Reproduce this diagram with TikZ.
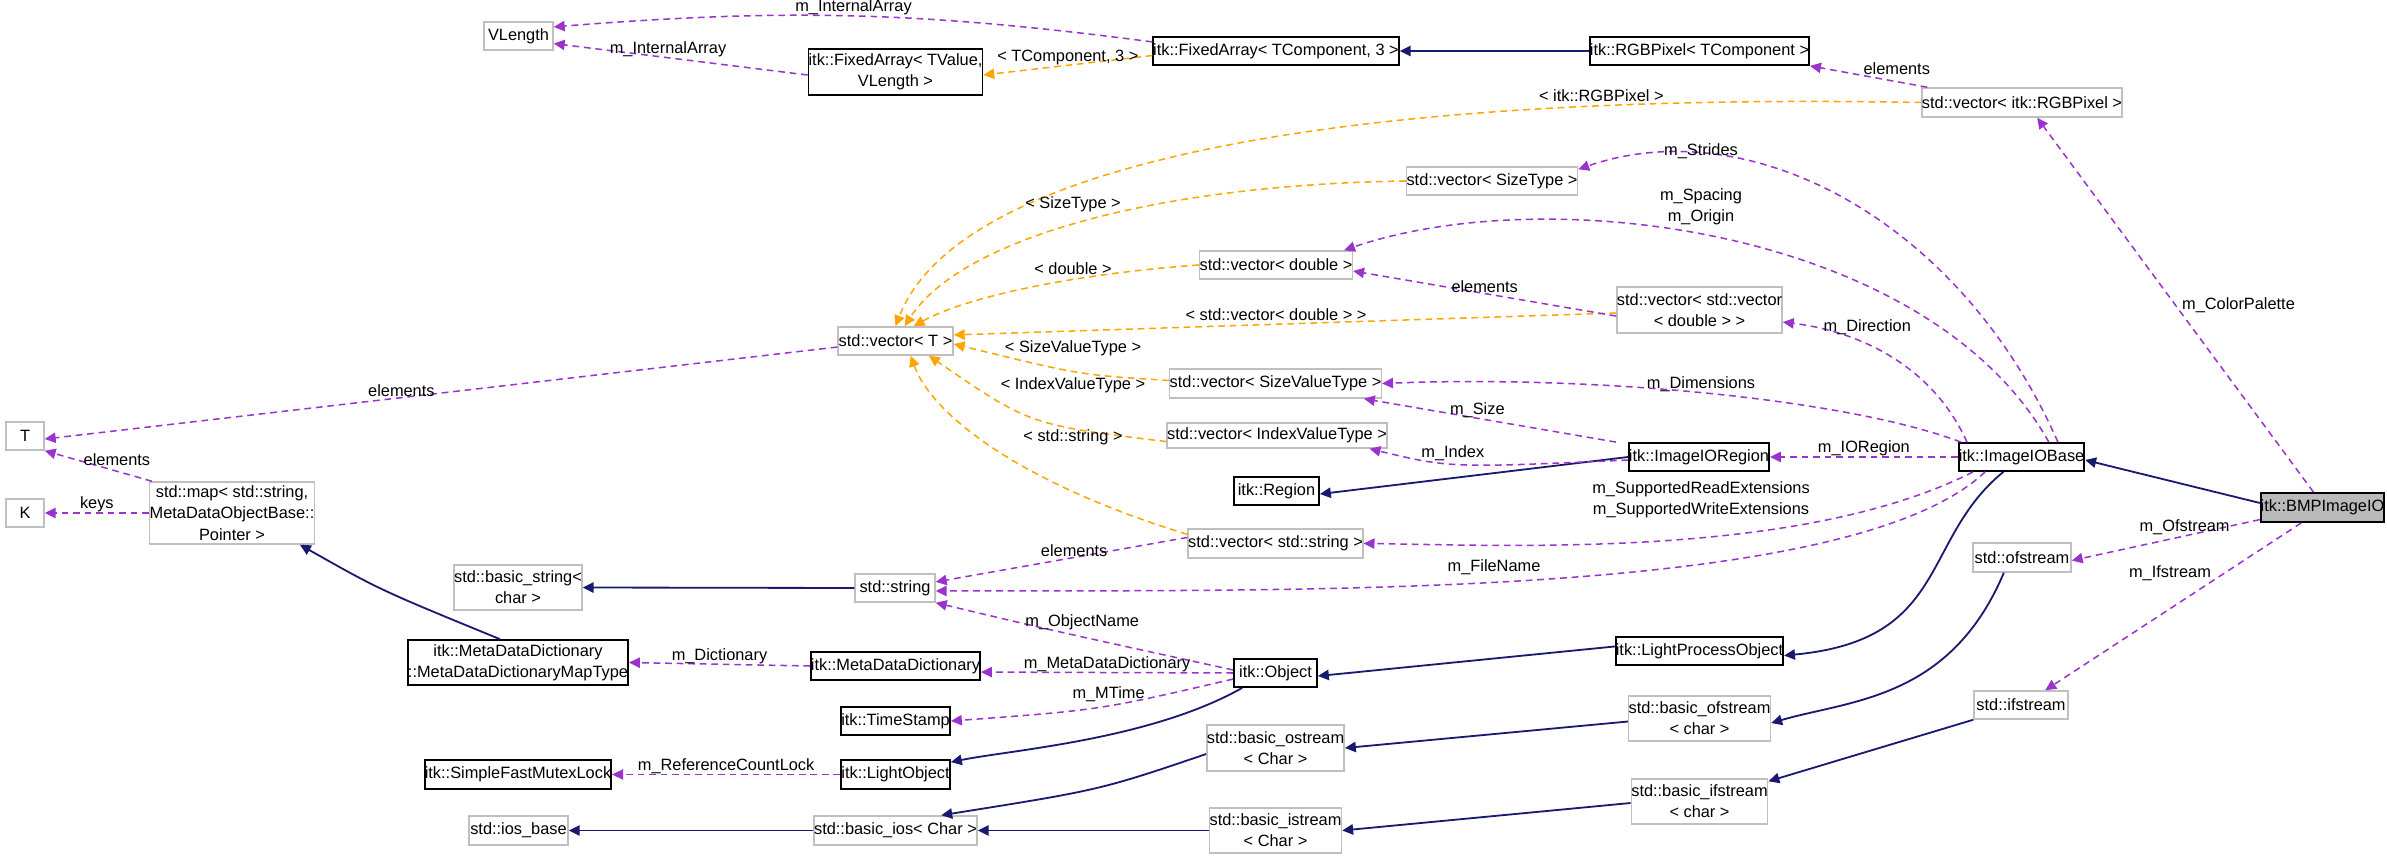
\documentclass[tikz,border=0pt]{standalone}
\usepackage{fontspec}
\setmainfont{Liberation Sans}
\usetikzlibrary{arrows.meta}
\definecolor{use}{HTML}{9A32CD}
\definecolor{tpl}{HTML}{FFA500}
\definecolor{inh}{HTML}{191970}
\definecolor{gbox}{HTML}{BFBFBF}
\newcommand\bx[7]{%
 \pgfmathsetmacro\cxx{(#2+#4)/2}\pgfmathsetmacro\cyy{(#3+#5)/2}%
 \pgfmathsetmacro\ww{(#4-#2)*0.33}\pgfmathsetmacro\hh{(#5-#3)*0.33}%
 \node[#6,minimum width=\ww pt,minimum height=\hh pt] (#1) at (\cxx,\cyy) {#7};}
\begin{document}
\begin{tikzpicture}[x=0.33pt,y=-0.33pt,
 every node/.style={font=\fontsize{5.4}{7}\selectfont,inner sep=0pt,align=center},
 gb/.style={draw=gbox,line width=0.5pt,fill=white},
 bb/.style={draw=black,line width=0.6pt,fill=white},
 me/.style={draw=black,line width=0.6pt,fill=black!27},
 lb/.style={fill=none},
 tip/.style={-{Triangle[length=3.6pt,width=3.4pt]}},
 use/.style={tip,draw=use,dashed,dash pattern=on 2.2pt off 1.6pt,line width=0.5pt},
 tpl/.style={tip,draw=tpl,dashed,dash pattern=on 2.2pt off 1.6pt,line width=0.5pt},
 inh/.style={tip,draw=inh,line width=0.6pt}]
\useasboundingbox (0,0) rectangle (2387,859);
% nodes
\bx{VL}{484}{22}{553}{50}{gb}{VLength}
\bx{FATV}{813}{49}{978}{95}{bb}{itk::FixedArray< TValue,\\VLength >}
\bx{FA3}{1165}{37}{1387}{65}{bb}{itk::FixedArray< TComponent, 3 >}
\bx{RGB}{1599}{37}{1800}{65}{bb}{itk::RGBPixel< TComponent >}
\bx{VRGB}{1928}{88}{2116}{117}{gb}{std::vector< itk::RGBPixel >}
\bx{VST}{1411}{167}{1573}{195}{gb}{std::vector< SizeType >}
\bx{VD}{1203}{251}{1349}{279}{gb}{std::vector< double >}
\bx{VVD}{1620}{287}{1779}{333}{gb}{std::vector< std::vector\\< double > >}
\bx{VT}{838}{327}{953}{355}{gb}{std::vector< T >}
\bx{VSVT}{1177}{369}{1374}{398}{gb}{std::vector< SizeValueType >}
\bx{VIVT}{1177}{423}{1377}{448}{gb}{std::vector< IndexValueType >}
\bx{IOR}{1632}{443}{1766}{471}{bb}{itk::ImageIORegion}
\bx{IOB}{1959}{443}{2084}{471}{bb}{itk::ImageIOBase}
\bx{BMP}{2261}{493}{2384}{522}{me}{itk::BMPImageIO}
\bx{REG}{1234}{477}{1319}{505}{bb}{itk::Region}
\bx{VS}{1192}{529}{1359}{558}{gb}{std::vector< std::string >}
\bx{OFS}{1973}{543}{2071}{572}{gb}{std::ofstream}
\bx{LPO}{1620}{637}{1779}{665}{bb}{itk::LightProcessObject}
\bx{OBJ}{1234}{659}{1317}{687}{bb}{itk::Object}
\bx{BOFS}{1631}{696}{1768}{741}{gb}{std::basic\_ofstream\\< char >}
\bx{IFS}{1974}{691}{2068}{719}{gb}{std::ifstream}
\bx{BOS}{1209}{725}{1342}{771}{gb}{std::basic\_ostream\\< Char >}
\bx{BIFS}{1633}{779}{1766}{824}{gb}{std::basic\_ifstream\\< char >}
\bx{BIS}{1211}{808}{1340}{853}{gb}{std::basic\_istream\\< Char >}
\bx{T}{6}{422}{44}{450}{gb}{T}
\bx{K}{6}{499}{44}{527}{gb}{K}
\bx{MAP}{153}{482}{311}{544}{gb}{std::map< std::string,\\MetaDataObjectBase::\\Pointer >}
\bx{BSTR}{455}{565}{581}{610}{gb}{std::basic\_string<\\char >}
\bx{STR}{855}{574}{935}{602}{gb}{std::string}
\bx{MDMT}{418}{640}{618}{685}{bb}{itk::MetaDataDictionary\\::MetaDataDictionaryMapType}
\bx{MDD}{816}{652}{975}{680}{bb}{itk::MetaDataDictionary}
\bx{TS}{841}{707}{950}{735}{bb}{itk::TimeStamp}
\bx{MUT}{431}{760}{605}{789}{bb}{itk::SimpleFastMutexLock}
\bx{LO}{841}{760}{950}{789}{bb}{itk::LightObject}
\bx{IOS}{469}{816}{568}{845}{gb}{std::ios\_base}
\bx{BIOS}{819}{816}{972}{845}{gb}{std::basic\_ios< Char >}
% inheritance
\draw[inh] (RGB.west) -- (FA3.east);
\draw[inh] ([yshift=1.5pt]BMP.west) -- ([yshift=-1pt]IOB.east);
\draw[inh] ([xshift=-6pt]IOB.south) .. controls (1920,540) and (1950,640) .. ([yshift=-1.5pt]LPO.east);
\draw[inh] ([yshift=1.5pt]LPO.west) -- ([yshift=-1pt]OBJ.east);
\draw[inh] ([xshift=-11pt]OBJ.south) .. controls (1150,740) and (1010,750) .. ([yshift=-1pt]LO.north east);
\draw[inh] (IOR.west) -- ([yshift=-1pt]REG.east);
\draw[inh] (STR.west) -- (BSTR.east);
\draw[inh] ([xshift=-6pt]MDMT.north) .. controls (380,590) .. ([xshift=-5pt]MAP.south east);
\draw[inh] ([xshift=-6pt]OFS.south) .. controls (1950,700) and (1850,700) .. ([yshift=-1.5pt]BOFS.east);
\draw[inh] ([yshift=-1pt]BOFS.west) -- ([yshift=0pt]BOS.east);
\draw[inh] ([yshift=-2pt]BOS.west) .. controls (1100,790) .. ([xshift=-12pt]BIOS.north east);
\draw[inh] (BIS.west |- BIOS.east) -- (BIOS.east);
\draw[inh] (IFS.south west) -- ([yshift=-1pt]BIFS.north east);
\draw[inh] ([yshift=-0.5pt]BIFS.west) -- (BIS.east);
\draw[inh] (BIOS.west) -- (IOS.east);
% templates
\draw[tpl] ([yshift=-1.5pt]FA3.west) -- node[lb,above,pos=0.5] {< TComponent, 3 >} ([yshift=-1pt]FATV.east);
\draw[tpl] (VRGB.west) .. controls (1350,92) and (960,160) .. ([xshift=0pt]VT.north) node[lb,pos=0.2,above=1pt] {< itk::RGBPixel >};
\draw[tpl] (VST.west) .. controls (1150,185) and (960,240) .. ([xshift=3pt]VT.north);
\draw[tpl] (VD.west) .. controls (1060,275) and (960,300) .. ([xshift=6pt]VT.north);
\draw[tpl] ([yshift=-1pt]VVD.west) -- ([yshift=2pt]VT.east);
\draw[tpl] ([yshift=1pt]VSVT.west) .. controls (1080,375) .. ([yshift=-1pt]VT.east);
\draw[tpl] ([yshift=-2pt]VIVT.west) .. controls (1030,425) .. ([xshift=11pt]VT.south);
\draw[tpl] ([yshift=3pt]VS.west) .. controls (1010,480) and (930,410) .. ([xshift=5pt]VT.south);
\node[lb] (l1) at (1073,204) {< SizeType >};
\node[lb] (l2) at (1073,269) {< double >};
\node[lb] (l3) at (1276,315) {< std::vector< double > >};
\node[lb] (l4) at (1073,348) {< SizeValueType >};
\node[lb] (l5) at (1073,385) {< IndexValueType >};
\node[lb] (l6) at (1073,437) {< std::string >};
% usage
\draw[use] ([yshift=3pt]FA3.west) to[bend right=6] node[lb,above,pos=0.5] {m\_InternalArray} ([yshift=3pt]VL.east);
\draw[use] ([yshift=-1pt]FATV.west) -- node[lb,above,pos=0.55] {m\_InternalArray} ([yshift=-2.5pt]VL.east);
\draw[use] ([xshift=2pt]VRGB.north west) -- node[lb,above right,pos=0.55] {elements} (RGB.south east);
\draw[use] ([xshift=-3pt]BMP.north) -- node[lb,right=2pt,pos=0.5] {m\_ColorPalette} ([xshift=5pt]VRGB.south);
\draw[use] ([xshift=-9pt]IOB.north east) .. controls (1960,220) and (1750,110) .. ([yshift=-1pt]VST.north east);
\node[lb] (l7) at (1701,151) {m\_Strides};
\draw[use] ([xshift=-12pt]IOB.north east) .. controls (1930,230) and (1550,180) .. ([xshift=-3pt]VD.north east);
\node[lb] (l8) at (1701,207) {m\_Spacing\\m\_Origin};
\draw[use] ([yshift=-2pt]VVD.west) -- node[lb,above,pos=0.5] {elements} ([yshift=-2pt]VD.east);
\draw[use] ([xshift=-18pt]IOB.north) .. controls (1930,360) and (1850,330) .. ([yshift=-4pt]VVD.east) node[lb,pos=0.85,right=3pt] {m\_Direction};
\draw[use] ([xshift=-20pt]IOB.north) .. controls (1850,400) and (1600,375) .. (VSVT.east);
\node[lb] (l9) at (1701,384) {m\_Dimensions};
\draw[use] ([xshift=-4pt]IOR.north west) -- node[lb,above,pos=0.55] {m\_Size} ([xshift=-6pt]VSVT.south east);
\draw[use] ([yshift=-1pt]IOR.west) .. controls (1450,468) .. ([xshift=-6pt]VIVT.south east) node[lb,pos=0.55,above=1pt] {m\_Index};
\draw[use] (IOB.west) -- node[lb,above,pos=0.5] {m\_IORegion} (IOR.east);
\draw[use] ([xshift=-16pt]IOB.south) .. controls (1800,560) and (1500,545) .. (VS.east);
\node[lb] (l10) at (1701,500) {m\_SupportedReadExtensions\\m\_SupportedWriteExtensions};
\draw[use] ([xshift=-12pt]IOB.south) .. controls (1850,600) and (1300,590) .. ([yshift=-1pt]STR.east);
\node[lb] (l11) at (1494,567) {m\_FileName};
\draw[use] ([yshift=-4pt]BMP.west) -- node[lb,above,pos=0.4] {m\_Ofstream} ([yshift=-1pt]OFS.east);
\draw[use] ([xshift=-7pt]BMP.south) -- node[lb,above left,pos=0.35] {m\_Ifstream} ([xshift=8pt]IFS.north);
\draw[use] ([yshift=-2pt]VT.west) -- node[lb,above,pos=0.55] {elements} ([yshift=-1pt]T.east);
\draw[use] ([xshift=1pt]MAP.north west) -- node[lb,right=2pt,pos=0.7] {elements} (T.south east);
\draw[use] ([yshift=0pt]MAP.west) -- node[lb,above,pos=0.5] {keys} (K.east);
\draw[use] ([yshift=2pt]VS.west) -- node[lb,above,pos=0.45] {elements} ([yshift=2pt]STR.east);
\draw[use] ([yshift=1pt]OBJ.west) .. controls (1050,630) .. (STR.south east) node[lb,pos=0.4,above=2pt] {m\_ObjectName};
\draw[use] (OBJ.west) -- node[lb,above,pos=0.5] {m\_MetaDataDictionary} ([yshift=-2pt]MDD.east);
\draw[use] (MDD.west) -- node[lb,above,pos=0.5] {m\_Dictionary} (MDMT.east);
\draw[use] ([yshift=-2pt]OBJ.west) .. controls (1100,710) .. (TS.east) node[lb,pos=0.45,above=1pt] {m\_MTime};
\draw[use] (LO.west) -- node[lb,above,pos=0.5] {m\_ReferenceCountLock} (MUT.east);
\end{tikzpicture}
\end{document}
